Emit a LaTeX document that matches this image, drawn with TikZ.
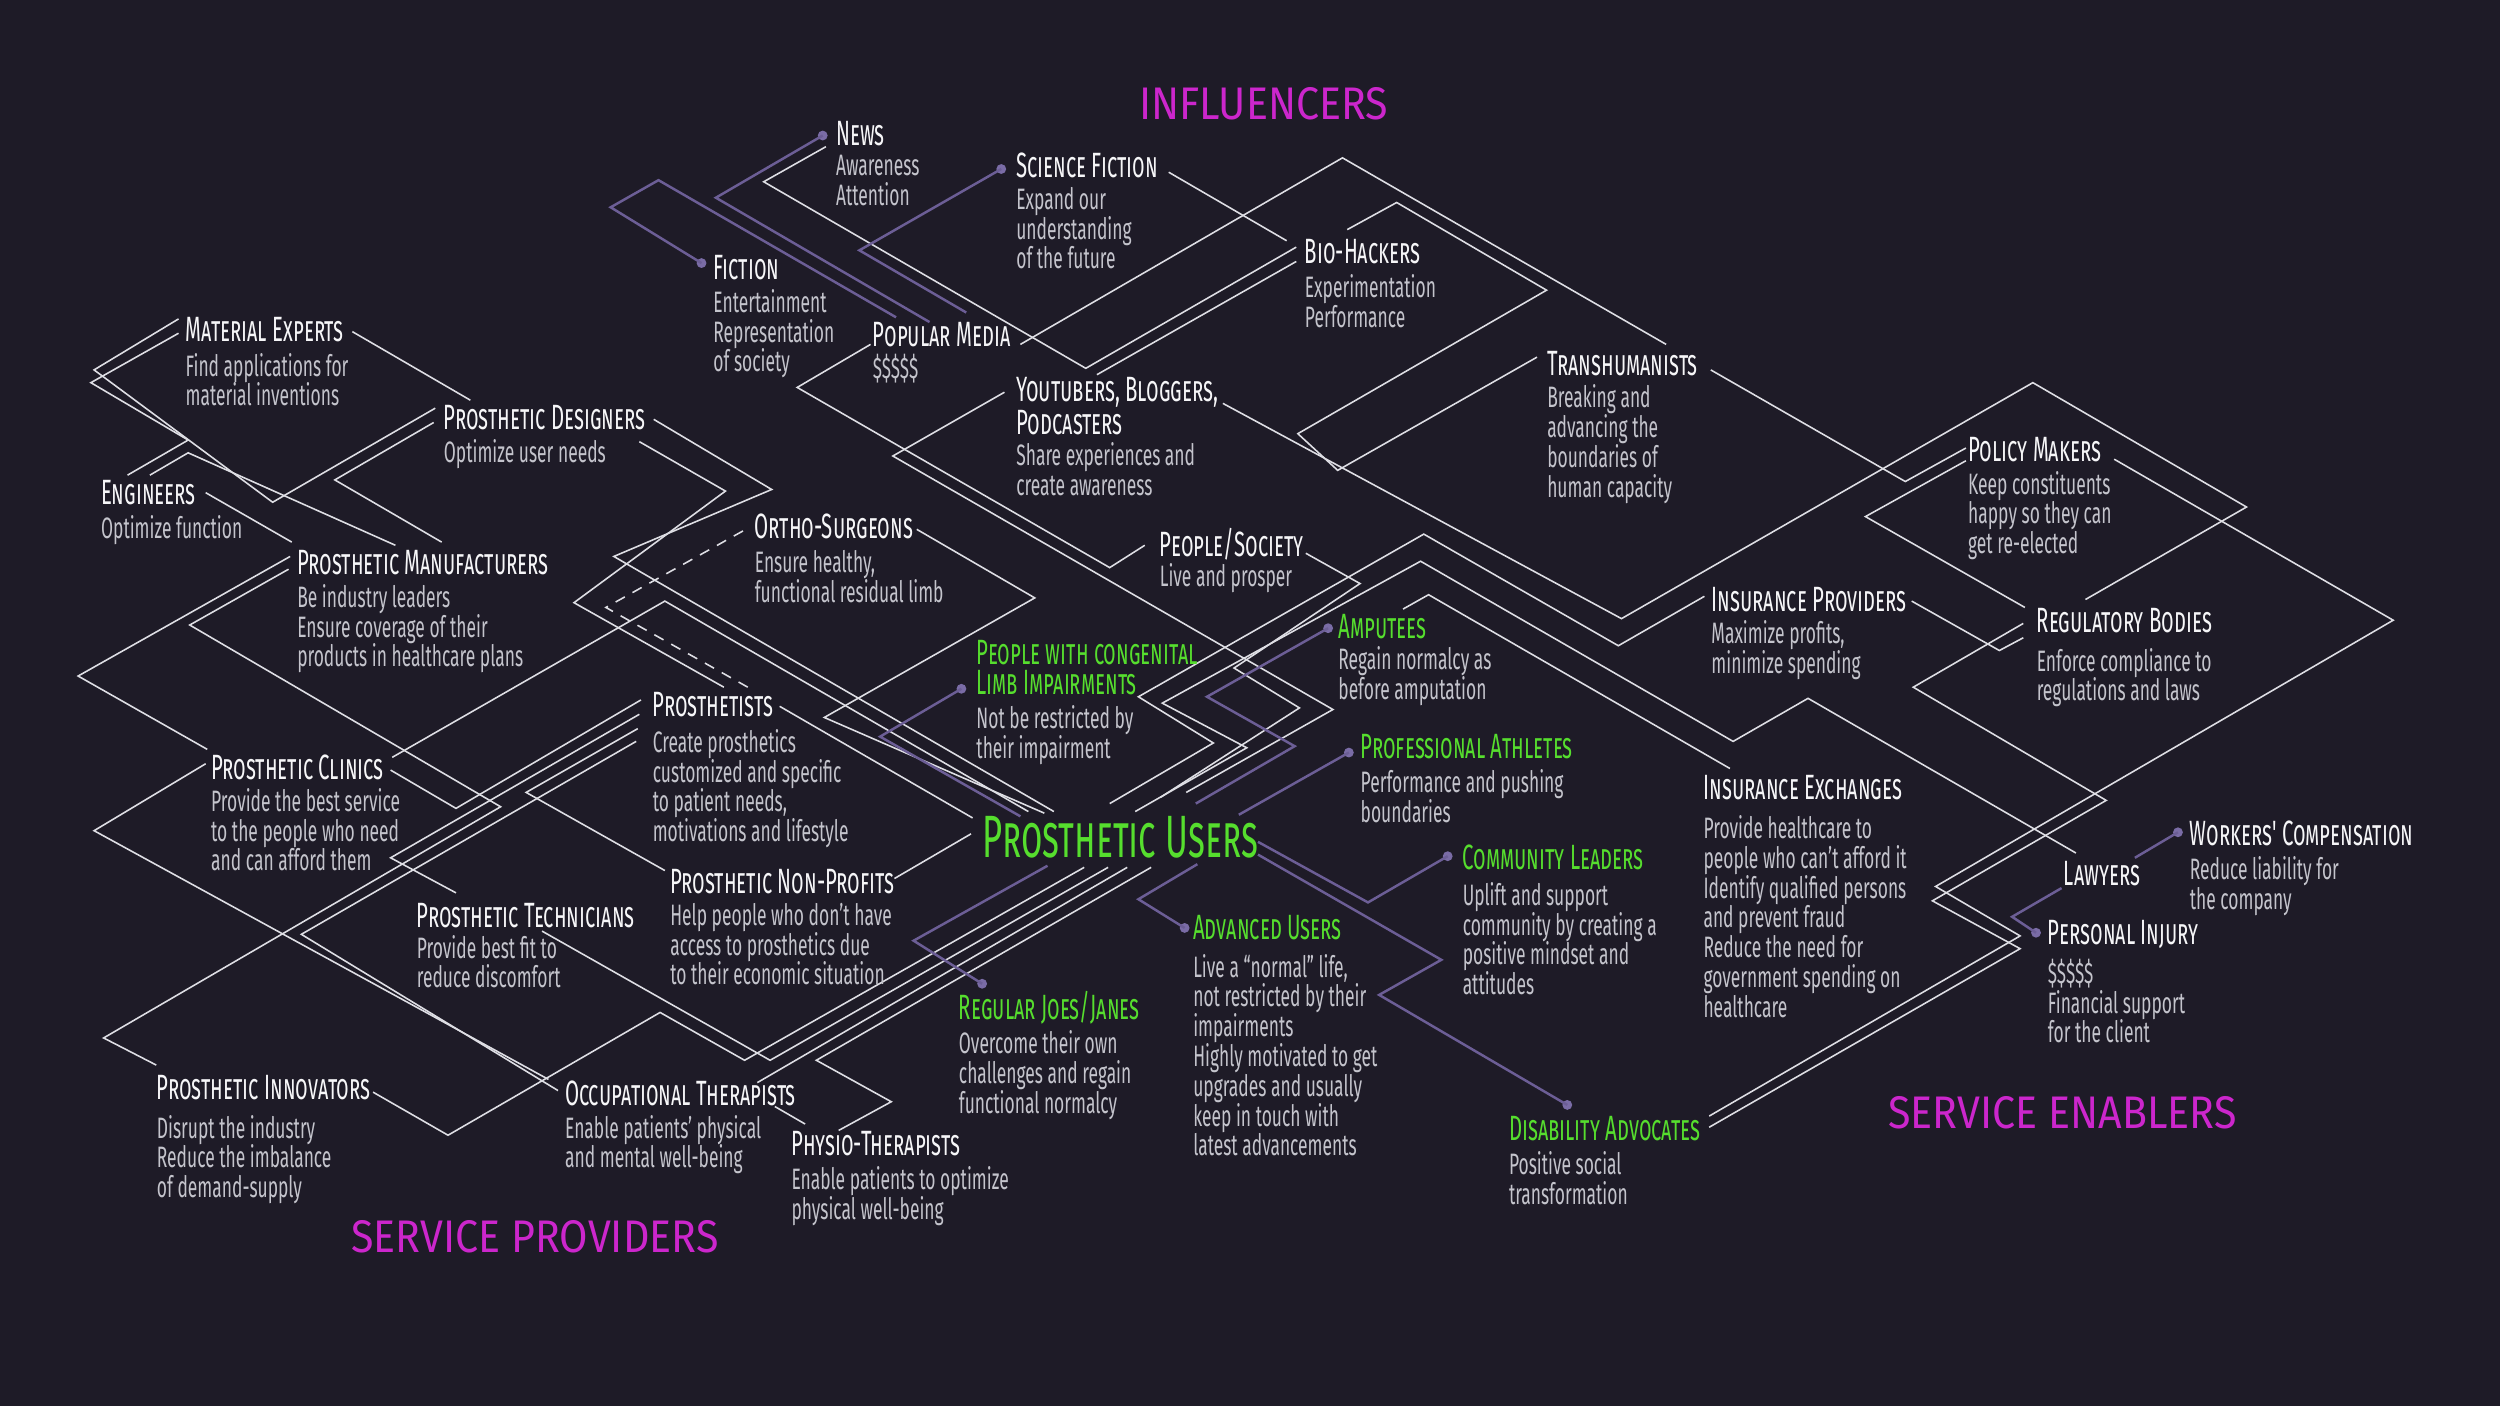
\documentclass[tikz,border=0pt]{standalone}
\usepackage{fontspec}
\setmainfont{Fira Sans}[FakeStretch=0.59]
\newfontfamily\hdfamily{Fira Sans}[FakeStretch=0.58, Ligatures=TeXOff]
\newfontfamily\sectfamily{Fira Sans}[FakeStretch=0.9]
\usetikzlibrary{calc}
\definecolor{bgnight}{RGB}{30,27,39}
\definecolor{linewhite}{RGB}{222,222,228}
\definecolor{linepurple}{RGB}{108,94,150}
\definecolor{dotpurple}{RGB}{122,108,166}
\definecolor{headwhite}{RGB}{246,246,248}
\definecolor{bodygray}{RGB}{196,196,204}
\definecolor{usergreen}{RGB}{86,222,46}
\definecolor{sectmagenta}{RGB}{204,38,204}
\newcommand{\hdfont}{\hdfamily\fontsize{10}{10}\selectfont\scshape}
\newcommand{\bdfont}{\fontsize{8.4}{8.47}\selectfont}
\newcommand{\secttitlefont}{\sectfamily\fontsize{13}{13}\selectfont}
\newcommand{\userfont}{\hdfamily\fontsize{17}{17}\selectfont\scshape}

\begin{document}
\begin{tikzpicture}[x=0.015944cm, y=-0.015944cm,
  hd/.style={font=\hdfont, text=headwhite, anchor=west, inner sep=0pt},
  hdg/.style={hd, text=usergreen},
  bd/.style={font=\bdfont, text=bodygray, anchor=north west, align=left, inner sep=0pt},
  sect/.style={font=\secttitlefont, text=sectmagenta, anchor=west, inner sep=0pt},
  wline/.style={draw=linewhite, line width=0.45pt},
  dline/.style={wline, dash pattern=on 3pt off 2.5pt},
  pline/.style={draw=linepurple, line width=0.7pt},
  pdot/.style={circle, fill=dotpurple, inner sep=0pt, minimum size=2.8pt}
]
\fill[bgnight] (0,0) rectangle (1568,882);
\useasboundingbox (0,0) rectangle (1568,882);

% Section titles
\node[sect] (infl) at (714,65) {INFLUENCERS};
\node[sect] (sprov) at (220,776) {SERVICE PROVIDERS};
\node[sect] (senab) at (1184,698) {SERVICE ENABLERS};

% Lattice lines - service providers
\draw[wline] (112,200) -- (59,232) -- (171,315) -- (273,256);
\draw[wline] (112,209) -- (57,240) -- (118,276) -- (80,298);
\draw[wline] (221,208) -- (295,251);
\draw[wline] (272,265) -- (210,301) -- (277,340);
\draw[wline] (94,298) -- (118,284) -- (248,342);
\draw[wline] (129,309) -- (183,340);
\draw[wline] (182,349) -- (49,424) -- (130,470);
\draw[wline] (181,357) -- (119,392) -- (314,506) -- (65,651) -- (98,668);
\draw[wline] (129,479) -- (59,521) -- (344,677);
\draw[wline] (246,475) -- (417,377) -- (645,509);
\draw[wline] (245,483) -- (286,507) -- (402,439);
\draw[wline] (401,448) -- (245,538) -- (286,560);
\draw[wline] (400,457) -- (330,497) -- (417,546);
\draw[wline] (399,465) -- (189,586) -- (350,684);
\draw[wline] (410,263) -- (484,307) -- (385,349) -- (661,509);
\draw[wline] (401,277) -- (455,308) -- (360,378) -- (454,431);
\draw[dline] (466,333) -- (380,381) -- (469,431);
\draw[wline] (575,332) -- (649,375) -- (517,450) -- (655,510);
\draw[wline] (489,443) -- (610,513);
\draw[wline] (561,551) -- (609,523);
\draw[wline] (340,584) -- (483,665) -- (695,544);
\draw[wline] (234,685) -- (281,712) -- (414,635) -- (467,665) -- (680,544);
\draw[wline] (475,679) -- (707,544);
\draw[wline] (486,694) -- (505,705);
\draw[wline] (526,709) -- (559,691) -- (512,665) -- (722,544);

% Lattice lines - influencers
\draw[wline] (518,92) -- (479,114) -- (681,231) -- (813,155);
\draw[wline] (733,108) -- (807,151);
\draw[wline] (640,216) -- (842,99) -- (1045,216);
\draw[wline] (813,164) -- (688,235);
\draw[wline] (546,216) -- (500,243) -- (696,356) -- (718,342);
\draw[wline] (630,246) -- (560,286) -- (836,445) -- (744,497);
\draw[wline] (845,144) -- (876,127) -- (970,182) -- (814,272) -- (839,295) -- (964,224);
\draw[wline] (767,253) -- (1017,388) -- (1275,240) -- (1409,318) -- (1308,376);
\draw[wline] (1073,232) -- (1195,302) -- (1233,281);
\draw[wline] (819,347) -- (853,366) -- (774,419) -- (815,444) -- (728,500);
\draw[wline] (696,504) -- (761,466) -- (714,437) -- (893,335) -- (1015,405) -- (1069,374);
\draw[wline] (712,509) -- (782,469) -- (729,441) -- (891,352) -- (1087,465) -- (1134,438) -- (1302,535);
\draw[wline] (880,382) -- (896,373) -- (1085,482);

% Lattice lines - service enablers
\draw[wline] (1233,289) -- (1170,324) -- (1270,381);
\draw[wline] (1326,288) -- (1501,389) -- (1214,556) -- (1267,587) -- (1072,700);
\draw[wline] (1269,391) -- (1200,431) -- (1321,502) -- (1212,565) -- (1267,595) -- (1072,707);
\draw[wline] (1199,377) -- (1254,408) -- (1269,400);

% Purple dots and connectors
\node[pdot] (d-news) at (516,85) {};
\node[pdot] (d-fict) at (440,165) {};
\node[pdot] (d-scifi) at (628,106) {};
\node[pdot] (d-cong) at (603,432) {};
\node[pdot] (d-amp) at (833,394) {};
\node[pdot] (d-ath) at (846,472) {};
\node[pdot] (d-comm) at (908,537) {};
\node[pdot] (d-dis) at (983,693) {};
\node[pdot] (d-adv) at (743,582) {};
\node[pdot] (d-joe) at (616,617) {};
\node[pdot] (d-work) at (1366,522) {};
\node[pdot] (d-inj) at (1277,585) {};
\draw[pline] (d-news.center) -- (449,124) -- (583,202);
\draw[pline] (d-fict.center) -- (383,130) -- (413,113) -- (562,199);
\draw[pline] (d-scifi.center) -- (539,157) -- (606,196);
\draw[pline] (d-cong.center) -- (552,462) -- (640,512);
\draw[pline] (d-amp.center) -- (757,437) -- (812,468) -- (750,504);
\draw[pline] (d-ath.center) -- (777,511);
\draw[pline] (789,528) -- (858,566) -- (d-comm.center);
\draw[pline] (789,536) -- (904,602) -- (865,624) -- (d-dis.center);
\draw[pline] (751,542) -- (714,564) -- (d-adv.center);
\draw[pline] (657,543) -- (573,590) -- (d-joe.center);
\draw[pline] (1339,538) -- (d-work.center);
\draw[pline] (1293,557) -- (1262,575) -- (d-inj.center);

% Influencers
\node[hd] (news) at (524,84) {News};
\node[bd] (news-t) at ($(news.west)+(0,13)$) {Awareness\\Attention};
\node[hd] (scifi) at (637,104) {Science Fiction};
\node[bd] (scifi-t) at ($(scifi.west)+(0,13)$) {Expand our\\understanding\\of the future};
\node[hd] (fict) at (447,168) {Fiction};
\node[bd] (fict-t) at ($(fict.west)+(0,13)$) {Entertainment\\Representation\\of society};
\node[hd] (popm) at (547,210) {Popular Media};
\node[bd] (popm-t) at ($(popm.west)+(0,12)$) {\$\$\$\$\$};
\node[hd] (biohk) at (818,158) {Bio-Hackers};
\node[bd] (biohk-t) at ($(biohk.west)+(0,14)$) {Experimentation\\Performance};
\node[hd] (trans) at (970,228) {Transhumanists};
\node[bd] (trans-t) at ($(trans.west)+(0,13)$) {Breaking and\\advancing the\\boundaries of\\human capacity};
\node[hd] (ytube) at (637,246) {Youtubers, Bloggers,};
\node[hd] (ytube2) at (637,265) {Podcasters};
\node[bd] (ytube-t) at ($(ytube2.west)+(0,12)$) {Share experiences and\\create awareness};
\node[hd] (people) at (727,341) {People/Society};
\node[bd] (people-t) at ($(people.west)+(0,12)$) {Live and prosper};

% Service providers
\node[hd] (matexp) at (116,207) {Material Experts};
\node[bd] (matexp-t) at ($(matexp.west)+(0,14)$) {Find applications for\\material inventions};
\node[hd] (pdesign) at (278,262) {Prosthetic Designers};
\node[bd] (pdesign-t) at ($(pdesign.west)+(0,13)$) {Optimize user needs};
\node[hd] (engin) at (63,309) {Engineers};
\node[bd] (engin-t) at ($(engin.west)+(0,14)$) {Optimize function};
\node[hd] (pmanuf) at (186,353) {Prosthetic Manufacturers};
\node[bd] (pmanuf-t) at ($(pmanuf.west)+(0,13)$) {Be industry leaders\\Ensure coverage of their\\products in healthcare plans};
\node[hd] (ortho) at (473,330) {Ortho-Surgeons};
\node[bd] (ortho-t) at ($(ortho.west)+(0,15)$) {Ensure healthy,\\functional residual limb};
\node[hd] (prosth) at (409,442) {Prosthetists};
\node[bd] (prosth-t) at ($(prosth.west)+(0,15)$) {Create prosthetics\\customized and specific\\to patient needs,\\motivations and lifestyle};
\node[hd] (clinic) at (132,481) {Prosthetic Clinics};
\node[bd] (clinic-t) at ($(clinic.west)+(0,13)$) {Provide the best service\\to the people who need\\and can afford them};
\node[hd] (nonprof) at (420,553) {Prosthetic Non-Profits};
\node[bd] (nonprof-t) at ($(nonprof.west)+(0,13)$) {Help people who don’t have\\access to prosthetics due\\to their economic situation};
\node[hd] (techn) at (261,574) {Prosthetic Technicians};
\node[bd] (techn-t) at ($(techn.west)+(0,12)$) {Provide best fit to\\reduce discomfort};
\node[hd] (innov) at (98,682) {Prosthetic Innovators};
\node[bd] (innov-t) at ($(innov.west)+(0,17)$) {Disrupt the industry\\Reduce the imbalance\\of demand-supply};
\node[hd] (occup) at (354,686) {Occupational Therapists};
\node[bd] (occup-t) at ($(occup.west)+(0,13)$) {Enable patients’ physical\\and mental well-being};
\node[hd] (physio) at (496,717) {Physio-Therapists};
\node[bd] (physio-t) at ($(physio.west)+(0,14)$) {Enable patients to optimize\\physical well-being};

% Prosthetic users
\node[hd, font=\userfont, text=usergreen] (users) at (616,525) {Prosthetic Users};
\node[hdg] (congen) at (612,409) {People with congenital};
\node[hdg] (congen2) at (612,428) {Limb Impairments};
\node[bd] (congen-t) at ($(congen2.west)+(0,14)$) {Not be restricted by\\their impairment};
\node[hdg] (amput) at (839,393) {Amputees};
\node[bd] (amput-t) at ($(amput.west)+(0,12)$) {Regain normalcy as\\before amputation};
\node[hdg] (athl) at (853,468) {Professional Athletes};
\node[bd] (athl-t) at ($(athl.west)+(0,14)$) {Performance and pushing\\boundaries};
\node[hdg] (commun) at (917,538) {Community Leaders};
\node[bd] (commun-t) at ($(commun.west)+(0,15)$) {Uplift and support\\community by creating a\\positive mindset and\\attitudes};
\node[hdg] (advan) at (748,582) {Advanced Users};
\node[bd] (advan-t) at ($(advan.west)+(0,16)$) {Live a “normal” life,\\not restricted by their\\impairments\\Highly motivated to get\\upgrades and usually\\keep in touch with\\latest advancements};
\node[hdg] (joes) at (601,632) {Regular Joes/Janes};
\node[bd] (joes-t) at ($(joes.west)+(0,14)$) {Overcome their own\\challenges and regain\\functional normalcy};
\node[hdg] (disab) at (946,708) {Disability Advocates};
\node[bd] (disab-t) at ($(disab.west)+(0,14)$) {Positive social\\transformation};

% Service enablers
\node[hd] (insexch) at (1068,494) {Insurance Exchanges};
\node[bd] (insexch-t) at ($(insexch.west)+(0,17)$) {Provide healthcare to\\people who can’t afford it\\Identify qualified persons\\and prevent fraud\\Reduce the need for\\government spending on\\healthcare};
\node[hd] (insprov) at (1073,376) {Insurance Providers};
\node[bd] (insprov-t) at ($(insprov.west)+(0,13)$) {Maximize profits,\\minimize spending};
\node[hd] (policy) at (1234,282) {Policy Makers};
\node[bd] (policy-t) at ($(policy.west)+(0,13)$) {Keep constituents\\happy so they can\\get re-elected};
\node[hd] (regul) at (1277,389) {Regulatory Bodies};
\node[bd] (regul-t) at ($(regul.west)+(0,17)$) {Enforce compliance to\\regulations and laws};
\node[hd] (lawyer) at (1294,548) {Lawyers};
\node[hd] (workers) at (1373,523) {Workers' Compensation};
\node[bd] (workers-t) at ($(workers.west)+(0,14)$) {Reduce liability for\\the company};
\node[hd] (injury) at (1284,586) {Personal Injury};
\node[bd] (injury-t) at ($(injury.west)+(0,15)$) {\$\$\$\$\$\\Financial support\\for the client};

\end{tikzpicture}
\end{document}
